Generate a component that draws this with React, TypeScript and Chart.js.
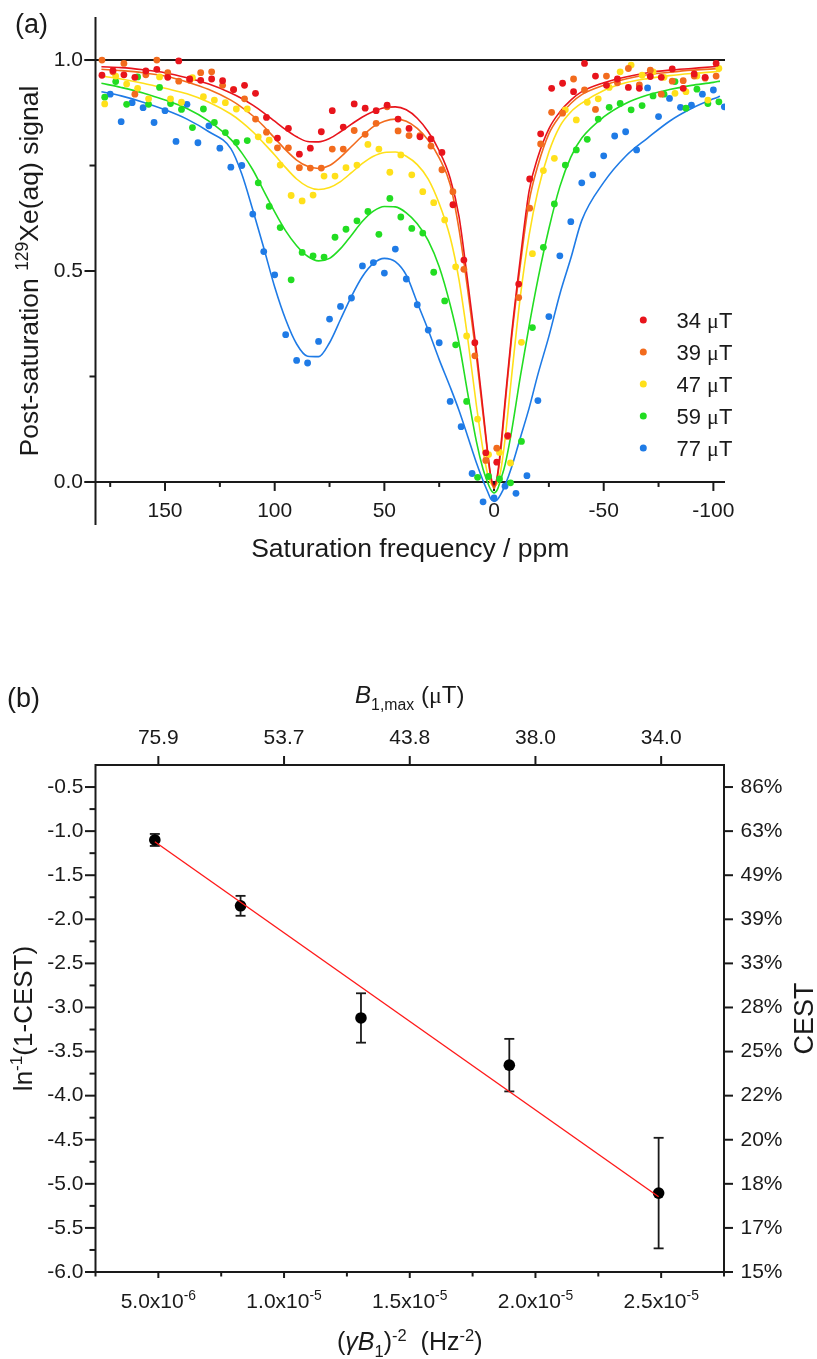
import React, { useEffect, useRef } from 'react';
import { Chart, registerables } from 'chart.js';

Chart.register(...registerables);

const FONT = '"Liberation Sans", Arial, Helvetica, sans-serif';
const SERIF = '"Liberation Serif", "Times New Roman", serif';
const INK = '#1a1a1a';

// ---------------- Panel (a) data ----------------
const SERIES_LABELS = ['34', '39', '47', '59', '77'];
const SERIES_COLORS = ['#e8141c', '#f26b1d', '#ffe01a', '#22dd22', '#1f7be6'];

// fitted curves, sampled at these saturation frequencies (ppm)
const FIT_PPM = [179, 170, 160, 150, 140, 130, 120, 115, 110, 105, 100, 95, 90, 85, 80, 75, 70, 65, 60, 55, 50, 45, 40, 35, 30, 25, 20, 16, 12, 8, 5, 3, 1.5, 0, -1.5, -3, -5, -8, -12, -16, -20, -25, -30, -35, -40, -50, -60, -70, -80, -90, -100, -103];
const FIT_34 = [0.984, 0.982, 0.977, 0.97, 0.958, 0.943, 0.922, 0.909, 0.893, 0.875, 0.855, 0.835, 0.818, 0.807, 0.806, 0.814, 0.83, 0.848, 0.865, 0.878, 0.887, 0.889, 0.882, 0.862, 0.83, 0.785, 0.72, 0.63, 0.475, 0.31, 0.17, 0.075, 0.015, -0.01, 0.015, 0.08, 0.19, 0.35, 0.53, 0.69, 0.77, 0.837, 0.877, 0.905, 0.925, 0.946, 0.96, 0.97, 0.976, 0.98, 0.984, 0.985];
const FIT_39 = [0.978, 0.975, 0.97, 0.962, 0.948, 0.93, 0.905, 0.888, 0.868, 0.843, 0.815, 0.787, 0.763, 0.748, 0.743, 0.75, 0.77, 0.795, 0.82, 0.842, 0.855, 0.86, 0.855, 0.838, 0.81, 0.768, 0.705, 0.6, 0.455, 0.295, 0.16, 0.07, 0.01, -0.015, 0.01, 0.07, 0.18, 0.34, 0.515, 0.665, 0.75, 0.825, 0.867, 0.897, 0.918, 0.94, 0.955, 0.965, 0.971, 0.976, 0.979, 0.98];
const FIT_47 = [0.962, 0.955, 0.945, 0.933, 0.92, 0.9, 0.872, 0.853, 0.83, 0.803, 0.775, 0.745, 0.718, 0.7, 0.693, 0.698, 0.712, 0.733, 0.755, 0.772, 0.781, 0.782, 0.772, 0.752, 0.718, 0.66, 0.58, 0.48, 0.34, 0.18, 0.075, 0.02, -0.003, -0.01, -0.003, 0.025, 0.1, 0.25, 0.44, 0.585, 0.69, 0.782, 0.843, 0.877, 0.898, 0.928, 0.946, 0.956, 0.963, 0.968, 0.972, 0.973];
const FIT_59 = [0.945, 0.935, 0.922, 0.905, 0.885, 0.855, 0.812, 0.78, 0.74, 0.69, 0.64, 0.595, 0.56, 0.535, 0.524, 0.53, 0.553, 0.585, 0.618, 0.642, 0.653, 0.652, 0.638, 0.612, 0.572, 0.51, 0.42, 0.33, 0.21, 0.095, 0.03, 0.0, -0.018, -0.026, -0.018, 0.005, 0.04, 0.12, 0.25, 0.37, 0.48, 0.6, 0.7, 0.77, 0.815, 0.865, 0.897, 0.917, 0.93, 0.94, 0.947, 0.95];
const FIT_77 = [0.925, 0.915, 0.9, 0.882, 0.86, 0.83, 0.79, 0.73, 0.645, 0.555, 0.462, 0.385, 0.327, 0.298, 0.297, 0.33, 0.385, 0.44, 0.487, 0.518, 0.53, 0.522, 0.49, 0.425, 0.36, 0.29, 0.225, 0.17, 0.108, 0.045, 0.003, -0.022, -0.04, -0.046, -0.042, -0.03, -0.008, 0.035, 0.105, 0.175, 0.255, 0.345, 0.445, 0.53, 0.62, 0.71, 0.772, 0.815, 0.855, 0.885, 0.908, 0.914];

// measured points
const X_34_39 = [178.75, 173.75, 168.75, 163.75, 158.75, 153.75, 148.75, 143.75, 138.75, 133.75, 128.75, 123.75, 118.75, 113.75, 108.75, 103.75, 98.75, 93.75, 88.75, 83.75, 78.75, 73.75, 68.75, 63.75, 58.75, 53.75, 48.75, 43.75, 38.75, 33.75, 28.75, 23.75, 18.75, 13.75, 8.75, 3.75, -1.25, -6.25, -11.25, -16.25, -21.25, -26.25, -31.25, -36.25, -41.25, -46.25, -51.25, -56.25, -61.25, -66.25, -71.25, -76.25, -81.25, -86.25, -91.25, -96.25, -101.25];
const X_47_59 = [177.5, 172.5, 167.5, 162.5, 157.5, 152.5, 147.5, 142.5, 137.5, 132.5, 127.5, 122.5, 117.5, 112.5, 107.5, 102.5, 97.5, 92.5, 87.5, 82.5, 77.5, 72.5, 67.5, 62.5, 57.5, 52.5, 47.5, 42.5, 37.5, 32.5, 27.5, 22.5, 17.5, 12.5, 7.5, 2.5, -2.5, -7.5, -12.5, -17.5, -22.5, -27.5, -32.5, -37.5, -42.5, -47.5, -52.5, -57.5, -62.5, -67.5, -72.5, -77.5, -82.5, -87.5, -92.5, -97.5, -102.5];
const X_77 = [175, 170, 165, 160, 155, 150, 145, 140, 135, 130, 125, 120, 115, 110, 105, 100, 95, 90, 85, 80, 75, 70, 65, 60, 55, 50, 45, 40, 35, 30, 25, 20, 15, 10, 5, 0, -5, -10, -15, -20, -25, -30, -35, -40, -45, -50, -55, -60, -65, -70, -75, -80, -85, -90, -95, -100, -105];

const DOT_34 = [0.964, 0.975, 0.965, 0.959, 0.974, 0.978, 0.959, 0.998, 0.955, 0.952, 0.955, 0.951, 0.93, 0.94, 0.921, 0.864, 0.815, 0.838, 0.777, 0.791, 0.83, 0.88, 0.841, 0.896, 0.886, 0.88, 0.893, 0.86, 0.838, 0.818, 0.813, 0.781, 0.657, 0.526, 0.33, 0.069, 0.047, 0.11, 0.469, 0.718, 0.825, 0.933, 0.945, 0.925, 0.992, 0.962, 0.94, 0.955, 0.935, 0.933, 0.961, 0.959, 0.979, 0.933, 0.967, 0.959, 0.992];
const DOT_39 = [1.0, 0.972, 0.992, 0.919, 0.965, 1.0, 0.97, 0.95, 0.952, 0.97, 0.972, 0.94, 0.93, 0.908, 0.86, 0.829, 0.792, 0.792, 0.745, 0.744, 0.744, 0.789, 0.789, 0.833, 0.824, 0.85, 0.889, 0.832, 0.821, 0.821, 0.796, 0.74, 0.688, 0.504, 0.299, 0.051, 0.08, 0.108, 0.437, 0.649, 0.801, 0.876, 0.874, 0.955, 0.929, 0.883, 0.962, 0.946, 0.98, 0.941, 0.976, 0.919, 0.95, 0.951, 0.962, 0.957, 0.962];
const DOT_47 = [0.896, 0.962, 0.943, 0.933, 0.908, 0.96, 0.908, 0.9, 0.958, 0.913, 0.905, 0.899, 0.884, 0.884, 0.818, 0.81, 0.751, 0.679, 0.666, 0.68, 0.725, 0.725, 0.745, 0.751, 0.8, 0.789, 0.734, 0.775, 0.728, 0.688, 0.662, 0.621, 0.51, 0.346, 0.149, 0.065, 0.07, 0.045, 0.331, 0.541, 0.738, 0.767, 0.882, 0.858, 0.9, 0.908, 0.935, 0.972, 0.988, 0.964, 0.972, 0.959, 0.921, 0.925, 0.962, 0.905, 0.98];
const DOT_59 = [0.912, 0.949, 0.895, 0.96, 0.895, 0.935, 0.897, 0.883, 0.84, 0.884, 0.852, 0.828, 0.805, 0.809, 0.709, 0.653, 0.603, 0.479, 0.544, 0.536, 0.533, 0.58, 0.599, 0.619, 0.641, 0.587, 0.672, 0.628, 0.601, 0.59, 0.497, 0.429, 0.325, 0.191, 0.011, 0.013, 0.007, -0.002, 0.096, 0.366, 0.556, 0.659, 0.751, 0.787, 0.812, 0.86, 0.888, 0.897, 0.882, 0.892, 0.915, 0.919, 0.949, 0.886, 0.931, 0.897, 0.901];
const DOT_77 = [0.919, 0.854, 0.899, 0.887, 0.852, 0.88, 0.807, 0.895, 0.804, 0.844, 0.791, 0.746, 0.75, 0.635, 0.546, 0.491, 0.349, 0.288, 0.282, 0.333, 0.386, 0.416, 0.436, 0.512, 0.52, 0.495, 0.552, 0.481, 0.42, 0.36, 0.33, 0.191, 0.131, 0.02, -0.047, -0.038, -0.01, -0.027, 0.015, 0.193, 0.392, 0.536, 0.617, 0.709, 0.728, 0.773, 0.82, 0.83, 0.787, 0.934, 0.866, 0.909, 0.888, 0.893, 0.919, 0.929, 0.889];

const A_X_MAJOR = [150, 100, 50, 0, -50, -100];
const A_X_LABELS = ['150', '100', '50', '0', '-50', '-100'];
const A_X_MINOR = [175, 125, 75, 25, -25, -75];
const A_Y_MAJOR = [0, 0.5, 1.0];
const A_Y_LABELS = ['0.0', '0.5', '1.0'];
const A_Y_MINOR = [0.25, 0.75];

// ---------------- Panel (b) data ----------------
const B_X = [4.86e-6, 8.27e-6, 1.306e-5, 1.896e-5, 2.49e-5];
const B_Y = [-1.1, -1.847, -3.119, -3.654, -5.105];
const B_ERR = [0.068, 0.113, 0.28, 0.298, 0.627];
const B_FIT_X = [4.86e-6, 2.49e-5];
const B_FIT_Y = [-1.12, -5.147];

const B_X_MAJOR = [5e-6, 1e-5, 1.5e-5, 2e-5, 2.5e-5];
const B_X_MANT = ['5.0x10', '1.0x10', '1.5x10', '2.0x10', '2.5x10'];
const B_X_EXP = ['-6', '-5', '-5', '-5', '-5'];
const B_X_MINOR = [2.5e-6, 7.5e-6, 1.25e-5, 1.75e-5, 2.25e-5, 2.75e-5];
const B_TOP_LABELS = ['75.9', '53.7', '43.8', '38.0', '34.0'];
const B_Y_MAJOR = [-0.5, -1, -1.5, -2, -2.5, -3, -3.5, -4, -4.5, -5, -5.5, -6];
const B_Y_LABELS = ['-0.5', '-1.0', '-1.5', '-2.0', '-2.5', '-3.0', '-3.5', '-4.0', '-4.5', '-5.0', '-5.5', '-6.0'];
const B_Y_MINOR = [-0.75, -1.25, -1.75, -2.25, -2.75, -3.25, -3.75, -4.25, -4.75, -5.25, -5.75];
const B_RIGHT_LABELS = ['86%', '63%', '49%', '39%', '33%', '28%', '25%', '22%', '20%', '18%', '17%', '15%'];

// ---------------- drawing helpers ----------------
type Seg = { t: string; sup?: boolean; sub?: boolean; it?: boolean; serif?: boolean };

function segFont(s: Seg, size: number) {
  const sz = s.sup || s.sub ? size * 0.66 : size;
  return `${s.it ? 'italic ' : ''}${sz}px ${s.serif ? SERIF : FONT}`;
}
function richWidth(ctx: CanvasRenderingContext2D, segs: Seg[], size: number) {
  let w = 0;
  for (const s of segs) {
    ctx.font = segFont(s, size);
    w += ctx.measureText(s.t).width;
  }
  return w;
}
function drawRich(ctx: CanvasRenderingContext2D, segs: Seg[], x: number, y: number, size: number, align: 'left' | 'center' | 'right') {
  const w = richWidth(ctx, segs, size);
  let cx = align === 'center' ? x - w / 2 : align === 'right' ? x - w : x;
  ctx.textAlign = 'left';
  ctx.textBaseline = 'alphabetic';
  for (const s of segs) {
    ctx.font = segFont(s, size);
    const dy = s.sup ? -size * 0.38 : s.sub ? size * 0.28 : 0;
    ctx.fillText(s.t, cx, y + dy);
    cx += ctx.measureText(s.t).width;
  }
}
function drawRotated(ctx: CanvasRenderingContext2D, segs: Seg[], baseX: number, centerY: number, size: number) {
  ctx.save();
  ctx.translate(baseX, centerY);
  ctx.rotate(-Math.PI / 2);
  drawRich(ctx, segs, 0, 0, size, 'center');
  ctx.restore();
}
function seg(ctx: CanvasRenderingContext2D, x1: number, y1: number, x2: number, y2: number) {
  ctx.beginPath();
  ctx.moveTo(x1, y1);
  ctx.lineTo(x2, y2);
  ctx.stroke();
}

// ---------------- plugins ----------------
const panelAPlugin = {
  id: 'panelA',
  beforeDatasetsDraw(chart: any) {
    const { ctx, chartArea: ca, scales } = chart;
    const sx = scales.x;
    const sy = scales.y;
    const y0 = sy.getPixelForValue(0);
    const y1 = sy.getPixelForValue(1);
    ctx.save();
    ctx.strokeStyle = INK;
    ctx.fillStyle = INK;
    ctx.lineWidth = 2;
    seg(ctx, ca.left, ca.top, ca.left, ca.bottom);
    seg(ctx, ca.left - 11, y0, ca.right, y0);
    seg(ctx, ca.left - 11, y1, ca.right, y1);
    for (const v of A_Y_MAJOR) { const p = sy.getPixelForValue(v); seg(ctx, ca.left - 11, p, ca.left, p); }
    for (const v of A_Y_MINOR) { const p = sy.getPixelForValue(v); seg(ctx, ca.left - 6, p, ca.left, p); }
    for (const v of A_X_MAJOR) { const p = sx.getPixelForValue(v); seg(ctx, p, y0, p, y0 + 9); }
    for (const v of A_X_MINOR) { const p = sx.getPixelForValue(v); seg(ctx, p, y0, p, y0 + 5); }

    ctx.font = `21px ${FONT}`;
    ctx.textAlign = 'right';
    ctx.textBaseline = 'middle';
    A_Y_MAJOR.forEach((v, i) => ctx.fillText(A_Y_LABELS[i], ca.left - 12.5, sy.getPixelForValue(v)));
    ctx.textAlign = 'center';
    ctx.textBaseline = 'alphabetic';
    A_X_MAJOR.forEach((v, i) => ctx.fillText(A_X_LABELS[i], sx.getPixelForValue(v), y0 + 35));

    drawRich(ctx, [{ t: 'Saturation frequency / ppm' }], (ca.left + ca.right) / 2, 557, 26.5, 'center');
    drawRotated(ctx, [{ t: 'Post-saturation ' }, { t: '129', sup: true }, { t: 'Xe(aq) signal' }], 38, (ca.top + ca.bottom) / 2, 26.5);
    drawRich(ctx, [{ t: '(a)' }], 15, 33, 27, 'left');
    ctx.restore();
  },
  afterDatasetsDraw(chart: any) {
    const { ctx } = chart;
    ctx.save();
    SERIES_LABELS.forEach((lab, i) => {
      const cy = 320 + i * 32;
      ctx.fillStyle = SERIES_COLORS[i];
      ctx.beginPath();
      ctx.arc(643.3, cy, 3.5, 0, Math.PI * 2);
      ctx.fill();
      ctx.fillStyle = INK;
      drawRich(ctx, [{ t: lab + ' ' }, { t: '\u03bc', serif: true }, { t: 'T' }], 676.5, cy + 8, 22, 'left');
    });
    ctx.restore();
  },
};

const panelBPlugin = {
  id: 'panelB',
  beforeDatasetsDraw(chart: any) {
    const { ctx, chartArea: ca, scales } = chart;
    const sx = scales.x;
    const sy = scales.y;
    ctx.save();
    ctx.strokeStyle = INK;
    ctx.fillStyle = INK;
    ctx.lineWidth = 2;
    ctx.strokeRect(ca.left, ca.top, ca.right - ca.left, ca.bottom - ca.top);
    for (const v of B_Y_MAJOR) {
      const p = sy.getPixelForValue(v);
      seg(ctx, ca.left - 10.5, p, ca.left, p);
      seg(ctx, ca.right, p, ca.right + 9, p);
    }
    for (const v of B_Y_MINOR) { const p = sy.getPixelForValue(v); seg(ctx, ca.left - 6, p, ca.left, p); }
    for (const v of B_X_MAJOR) {
      const p = sx.getPixelForValue(v);
      seg(ctx, p, ca.bottom, p, ca.bottom + 6);
      seg(ctx, p, ca.top, p, ca.top - 9);
    }
    for (const v of B_X_MINOR) { const p = sx.getPixelForValue(v); seg(ctx, p, ca.bottom, p, ca.bottom + 4.5); }

    ctx.font = `21px ${FONT}`;
    ctx.textAlign = 'right';
    ctx.textBaseline = 'middle';
    B_Y_MAJOR.forEach((v, i) => ctx.fillText(B_Y_LABELS[i], ca.left - 12, sy.getPixelForValue(v)));
    ctx.textAlign = 'left';
    B_Y_MAJOR.forEach((v, i) => ctx.fillText(B_RIGHT_LABELS[i], ca.right + 16.5, sy.getPixelForValue(v)));
    ctx.textAlign = 'center';
    ctx.textBaseline = 'alphabetic';
    B_X_MAJOR.forEach((v, i) => ctx.fillText(B_TOP_LABELS[i], sx.getPixelForValue(v), ca.top - 21));
    B_X_MAJOR.forEach((v, i) =>
      drawRich(ctx, [{ t: B_X_MANT[i] }, { t: B_X_EXP[i], sup: true }], sx.getPixelForValue(v), ca.bottom + 36, 21, 'center')
    );

    const midX = (ca.left + ca.right) / 2;
    const midY = (ca.top + ca.bottom) / 2;
    drawRich(ctx, [{ t: 'B', it: true }, { t: '1,max', sub: true }, { t: ' (' }, { t: '\u03bc', serif: true }, { t: 'T)' }], midX, 63, 24, 'center');
    drawRich(ctx, [{ t: '(' }, { t: '\u03b3B', it: true }, { t: '1', sub: true }, { t: ')' }, { t: '-2', sup: true }, { t: '  (Hz' }, { t: '-2', sup: true }, { t: ')' }], midX, 710, 25, 'center');
    drawRotated(ctx, [{ t: 'ln' }, { t: '-1', sup: true }, { t: '(1-CEST)' }], 32, midY, 26);
    drawRotated(ctx, [{ t: 'CEST' }], 813, midY, 27);
    drawRich(ctx, [{ t: '(b)' }], 7, 67, 27, 'left');

    // error bars
    ctx.lineWidth = 1.8;
    B_X.forEach((xv, i) => {
      const px = sx.getPixelForValue(xv);
      const top = sy.getPixelForValue(B_Y[i] + B_ERR[i]);
      const bot = sy.getPixelForValue(B_Y[i] - B_ERR[i]);
      seg(ctx, px, top, px, bot);
      seg(ctx, px - 5, top, px + 5, top);
      seg(ctx, px - 5, bot, px + 5, bot);
    });
    ctx.restore();
  },
};

const FITS = [FIT_34, FIT_39, FIT_47, FIT_59, FIT_77];
const DOTS = [DOT_34, DOT_39, DOT_47, DOT_59, DOT_77];
const DOT_X = [X_34_39, X_34_39, X_47_59, X_47_59, X_77];

export default function App() {
  const refA = useRef<HTMLCanvasElement>(null);
  const refB = useRef<HTMLCanvasElement>(null);

  useEffect(() => {
    const dotSets = DOTS.map((vals, i) => ({
      label: SERIES_LABELS[i] + ' \u03bcT',
      data: DOT_X[i].map((x, j) => ({ x, y: vals[j] })),
      showLine: false,
      pointRadius: 3.4,
      pointBorderWidth: 0,
      pointBackgroundColor: SERIES_COLORS[i],
      borderColor: SERIES_COLORS[i],
      clip: 0,
    }));
    const fitSets = FITS.map((vals, i) => ({
      label: SERIES_LABELS[i] + ' fit',
      data: FIT_PPM.map((x, j) => ({ x, y: vals[j] })),
      showLine: true,
      pointRadius: 0,
      borderWidth: 1.6,
      borderColor: SERIES_COLORS[i],
      cubicInterpolationMode: 'monotone',
      fill: false,
      clip: 0,
    }));

    const chartA = new Chart(refA.current as HTMLCanvasElement, {
      type: 'scatter',
      data: { datasets: [...dotSets, ...fitSets] as any },
      options: {
        responsive: false,
        animation: false,
        events: [],
        layout: { padding: { left: 95.5, right: 92, top: 17, bottom: 95 } },
        plugins: { legend: { display: false }, tooltip: { enabled: false } },
        scales: {
          x: { type: 'linear', reverse: true, min: -105.3, max: 181.7, display: false },
          y: { type: 'linear', min: -0.102, max: 1.102, display: false },
        },
      } as any,
      plugins: [panelAPlugin],
    });

    const chartB = new Chart(refB.current as HTMLCanvasElement, {
      type: 'scatter',
      data: {
        datasets: [
          {
            label: 'Linear fit',
            data: B_FIT_X.map((x, j) => ({ x, y: B_FIT_Y[j] })),
            showLine: true,
            pointRadius: 0,
            borderWidth: 1.4,
            borderColor: '#ff1a1a',
          },
          {
            label: 'ln(1-CEST)',
            data: B_X.map((x, j) => ({ x, y: B_Y[j] })),
            showLine: false,
            pointRadius: 5.8,
            pointBorderWidth: 0,
            pointBackgroundColor: '#000000',
            borderColor: '#000000',
          },
        ] as any,
      },
      options: {
        responsive: false,
        animation: false,
        events: [],
        layout: { padding: { left: 95.5, right: 93, top: 125, bottom: 87 } },
        plugins: { legend: { display: false }, tooltip: { enabled: false } },
        scales: {
          x: { type: 'linear', min: 2.5e-6, max: 2.75e-5, display: false },
          y: { type: 'linear', min: -6, max: -0.25, display: false },
        },
      } as any,
      plugins: [panelBPlugin],
    });

    return () => {
      chartA.destroy();
      chartB.destroy();
    };
  }, []);

  return (
    <div style={{ position: 'absolute', left: 0, top: 0, width: 817, height: 1359, background: '#ffffff' }}>
      <canvas ref={refA} width={817} height={620} style={{ position: 'absolute', left: 0, top: 0 }} />
      <canvas ref={refB} width={817} height={719} style={{ position: 'absolute', left: 0, top: 640 }} />
    </div>
  );
}
